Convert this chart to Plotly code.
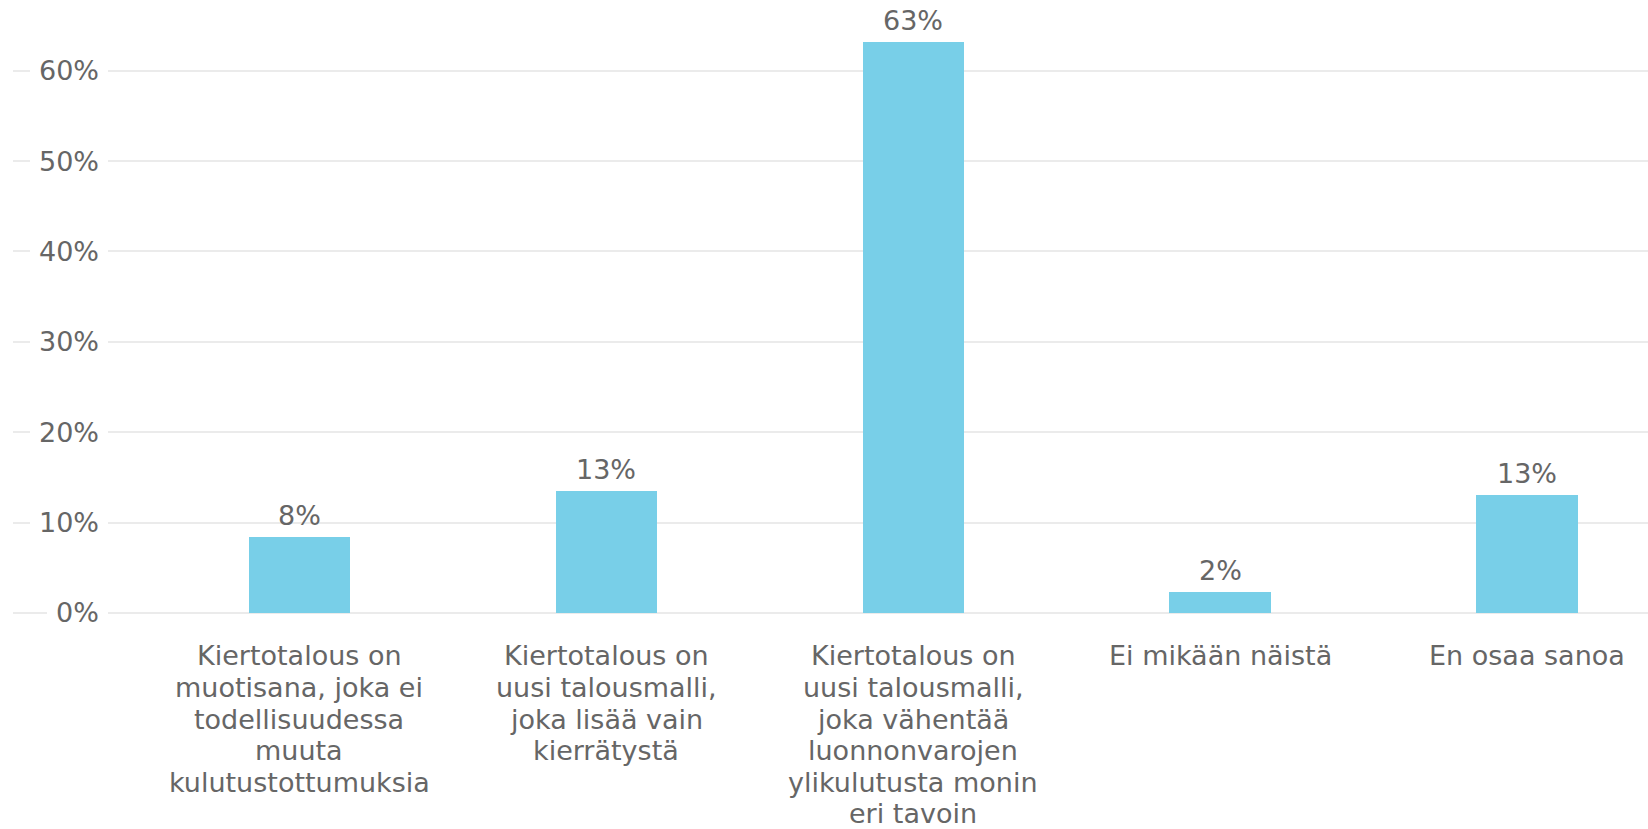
import plotly.graph_objects as go

categories = [
    "Kiertotalous on<br>muotisana, joka ei<br>todellisuudessa<br>muuta<br>kulutustottumuksia",
    "Kiertotalous on<br>uusi talousmalli,<br>joka lisää vain<br>kierrätystä",
    "Kiertotalous on<br>uusi talousmalli,<br>joka vähentää<br>luonnonvarojen<br>ylikulutusta monin<br>eri tavoin",
    "Ei mikään näistä",
    "En osaa sanoa",
]
values = [8.4, 13.5, 63.2, 2.3, 13.0]
value_labels = ["8%", "13%", "63%", "2%", "13%"]
tick_vals = [0, 10, 20, 30, 40, 50, 60]
tick_text = ["0%", "10%", "20%", "30%", "40%", "50%", "60%"]

W, H = 1648, 829
FONT = "DejaVu Sans"
TXT = "#666666"
BAR = "#78CFE8"
GRID = "#ebebeb"

fig = go.Figure()
fig.add_trace(go.Bar(
    x=categories, y=values, width=0.33,
    marker=dict(color=BAR, line=dict(width=0)),
    hoverinfo="skip",
))

ann = []
# value labels
for c, v, t in zip(categories, values, value_labels):
    ann.append(dict(x=c, y=v, xref="x", yref="y", text=t, showarrow=False,
                    yanchor="bottom", yshift=4,
                    font=dict(family=FONT, size=27, color=TXT)))
# category labels, line by line
for c in categories:
    for i, line in enumerate(c.split("<br>")):
        ann.append(dict(x=c, y=0, xref="x", yref="y", text=line, showarrow=False,
                        yanchor="middle", yshift=-(43 + i * 31.6),
                        font=dict(family=FONT, size=27, color=TXT)))
# y tick labels with white background breaking the gridline
plot_left = 13
plot_w = W - plot_left
for v, t in zip(tick_vals, tick_text):
    ann.append(dict(x=(108 - plot_left) / plot_w, y=v, xref="paper", yref="y", text=t,
                    showarrow=False, xanchor="right", yanchor="middle",
                    bgcolor="white", borderpad=9, borderwidth=0,
                    font=dict(family=FONT, size=27, color=TXT)))

px_per_unit = (612.5 - 70.7) / 60.0
ymax = 612.5 / px_per_unit
ymin = -2.0
bottom = 612.5 + (-ymin) * px_per_unit

fig.update_layout(
    width=W, height=H,
    margin=dict(l=plot_left, r=0, t=0, b=H - bottom, pad=0),
    paper_bgcolor="white", plot_bgcolor="white",
    showlegend=False,
    annotations=ann,
    bargap=0,
    xaxis=dict(range=[-(299.5 - plot_left) / 307.0, 4 + (W - 1527) / 307.0],
               showticklabels=False, showgrid=False, zeroline=False,
               showline=False, ticks="", fixedrange=True),
    yaxis=dict(range=[ymin, ymax], tickvals=tick_vals, showticklabels=False,
               showgrid=True, gridcolor=GRID, gridwidth=2,
               zeroline=False, showline=False, ticks="", fixedrange=True),
)

fig.write_html("out.html", config={"displayModeBar": False},
               post_script="document.body.style.margin='0';document.body.style.overflow='hidden';")
